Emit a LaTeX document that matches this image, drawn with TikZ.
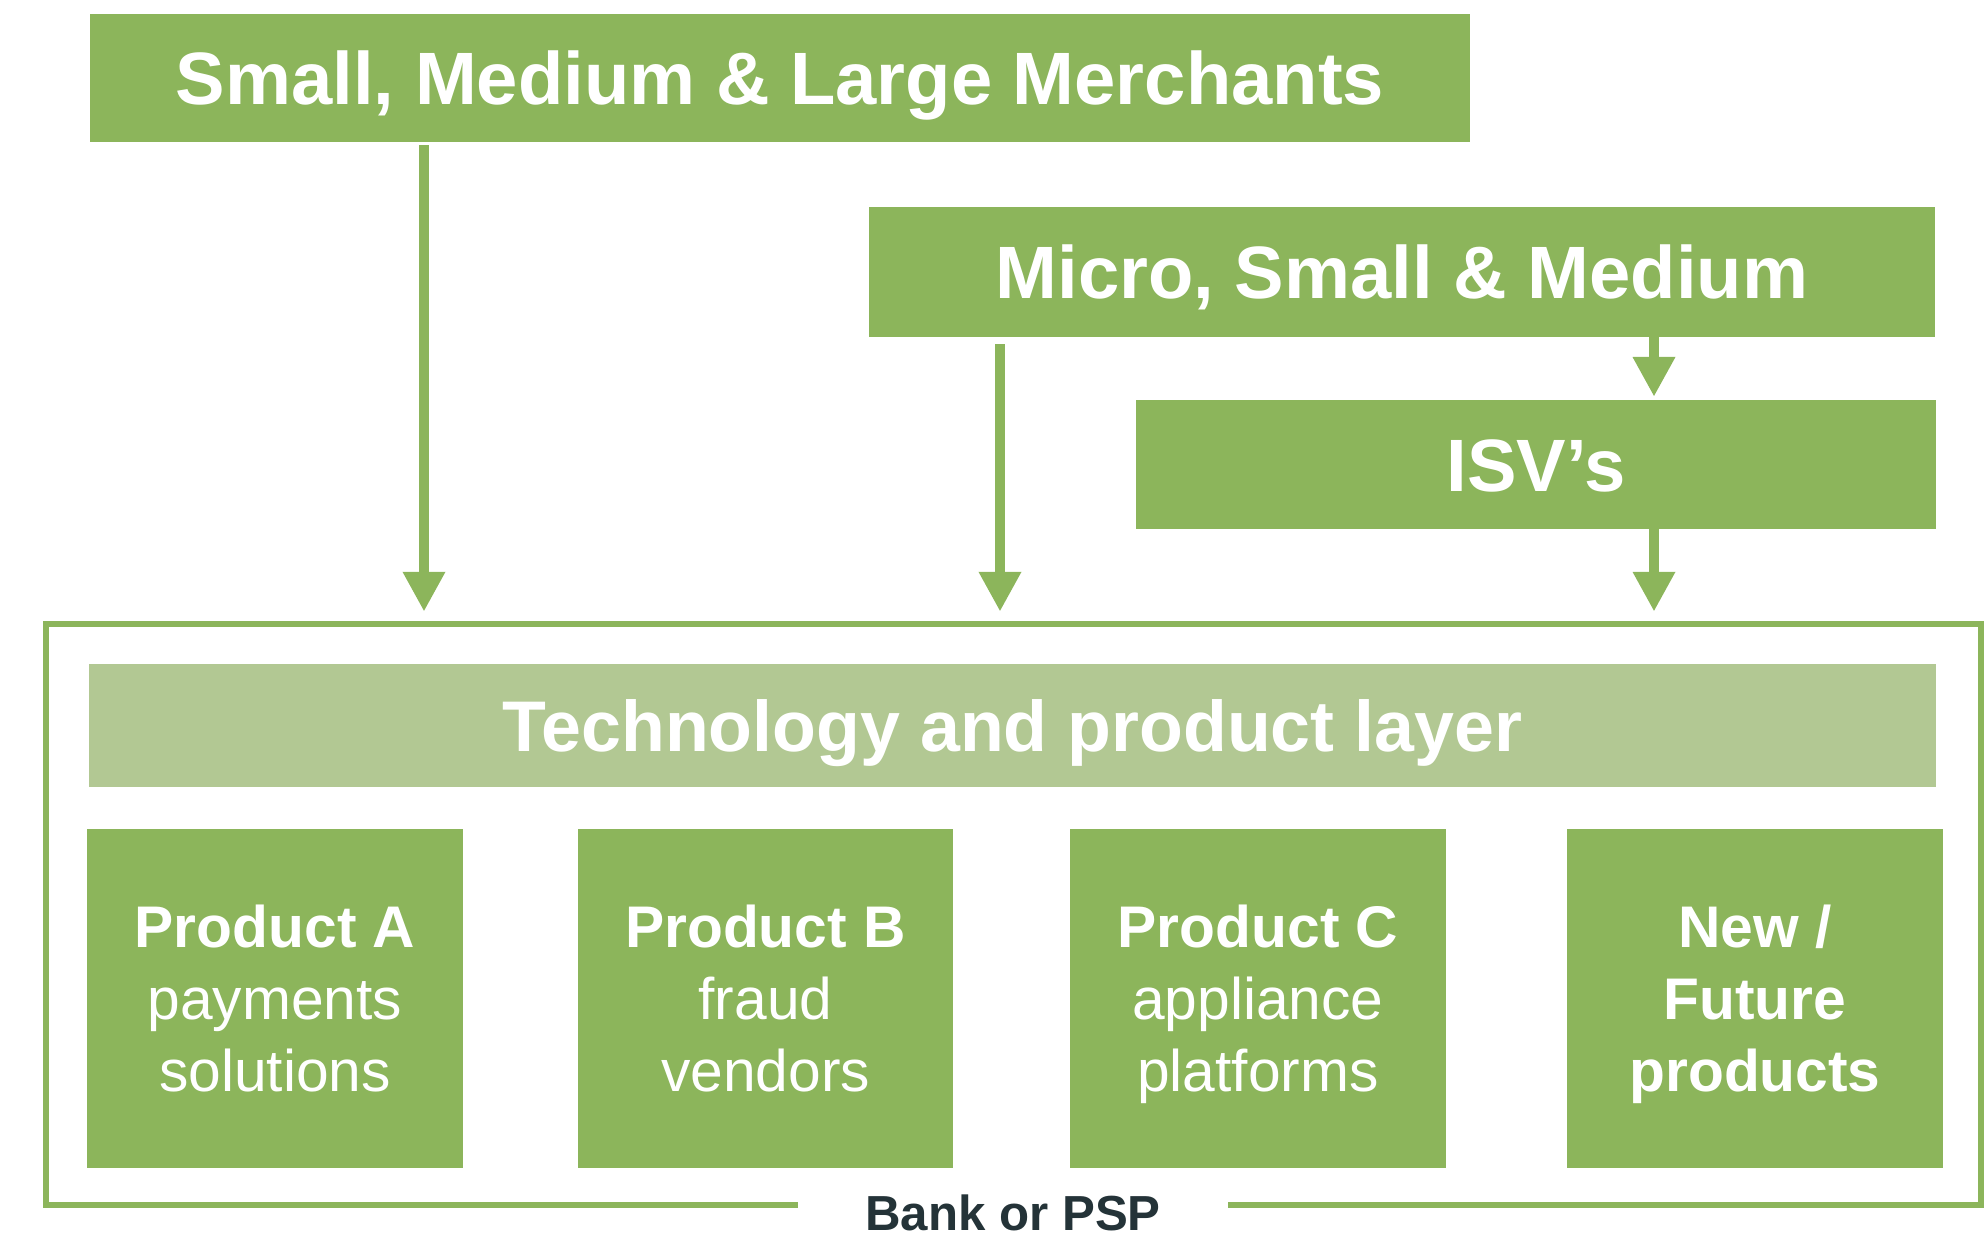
\documentclass[tikz,border=0pt]{standalone}
\usepackage{fontspec}
\setmainfont{Liberation Sans}
\usetikzlibrary{arrows.meta}
\definecolor{leaf}{HTML}{8CB55B}
\definecolor{pale}{HTML}{B2C893}
\definecolor{ink}{HTML}{243338}
\begin{document}
\begin{tikzpicture}[x=0.01cm, y=-0.01cm,
  every node/.append style={inner sep=0pt, outer sep=0pt},
  band/.style={fill=leaf, text=white, font=\fontsize{21.1}{25}\selectfont\bfseries, text height=15.2pt, text depth=0pt},
  tile/.style={fill=leaf, text=white, align=center, minimum width=3.75cm, minimum height=3.39cm, font=\fontsize{16.7}{20.5}\selectfont, text depth=0pt},
  flow/.style={leaf, line width=0.1cm, -{Triangle[width=0.43cm, length=0.39cm, line width=0pt]}}]
  \useasboundingbox (0,0) rectangle (1984,1236);
  % customer groups
  \node[band, minimum width=13.8cm, minimum height=1.28cm] (merchants) at (780,78) {Small, Medium \& Large Merchants};
  \node[band, minimum width=10.66cm, minimum height=1.3cm] (micro) at (1402,272) {Micro, Small \& Medium};
  \node[band, minimum width=8cm, minimum height=1.29cm] (isv) at (1536,464.5) {ISV’s};
  % bank frame
  \node[draw=leaf, line width=0.06cm, minimum width=19.33cm, minimum height=5.81cm] (psp) at (1013.5,914.5) {};
  \node[fill=white, minimum width=4.3cm, inner ysep=2pt, anchor=base, text=ink, font=\fontsize{14}{16}\selectfont\bfseries] (bank) at (1013,1230) {Bank or PSP};
  \node[band, fill=pale, font=\fontsize{20.4}{24}\selectfont\bfseries, text height=14.7pt, minimum width=18.45cm, minimum height=1.23cm] (techlayer) at (1012.5,725.5) {Technology and product layer};
  % products
  \node[tile] (prodA) at (275,998.5) {\textbf{Product A}\\payments\\solutions};
  \node[tile] (prodB) at (765.5,998.5) {\textbf{Product B}\\fraud\\vendors};
  \node[tile] (prodC) at (1258,998.5) {\textbf{Product C}\\appliance\\platforms};
  \node[tile] (prodD) at (1755,998.5) {\textbf{New /}\\\textbf{Future}\\\textbf{products}};
  % arrows
  \draw[flow, shorten <=0.03cm, shorten >=0.13cm] (424,0 |- merchants.south) -- (424,0 |- psp.north);
  \draw[flow, shorten <=0.07cm, shorten >=0.13cm] (1000,0 |- micro.south) -- (1000,0 |- psp.north);
  \draw[flow, shorten >=0.04cm] (1654,0 |- micro.south) -- (1654,0 |- isv.north);
  \draw[flow, shorten >=0.13cm] (1654,0 |- isv.south) -- (1654,0 |- psp.north);
\end{tikzpicture}
\end{document}
